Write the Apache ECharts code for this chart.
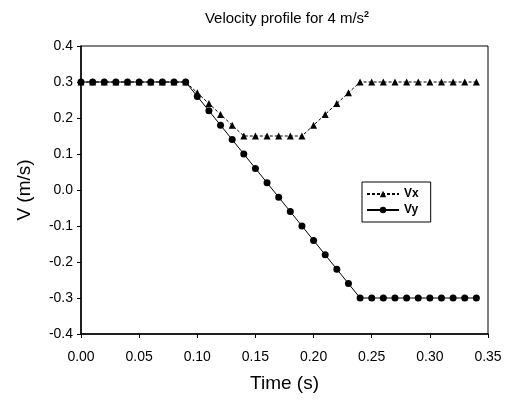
<!DOCTYPE html>
<html>
<head>
<meta charset="utf-8">
<script src="https://cdn.jsdelivr.net/npm/echarts@6/dist/echarts.min.js"></script>
<style>
  html, body { margin: 0; padding: 0; background: #fff; }
  #main { width: 516px; height: 401px; }
</style>
</head>
<body>
<div id="main"></div>
<script>
// time samples (s)
var time = [0.00, 0.01, 0.02, 0.03, 0.04, 0.05, 0.06, 0.07, 0.08, 0.09,
            0.10, 0.11, 0.12, 0.13, 0.14, 0.15, 0.16, 0.17, 0.18, 0.19,
            0.20, 0.21, 0.22, 0.23, 0.24, 0.25, 0.26, 0.27, 0.28, 0.29,
            0.30, 0.31, 0.32, 0.33, 0.34];

// velocities (m/s)
var vx = [0.30, 0.30, 0.30, 0.30, 0.30, 0.30, 0.30, 0.30, 0.30, 0.30,
          0.27, 0.24, 0.21, 0.18, 0.15, 0.15, 0.15, 0.15, 0.15, 0.15,
          0.18, 0.21, 0.24, 0.27, 0.30, 0.30, 0.30, 0.30, 0.30, 0.30,
          0.30, 0.30, 0.30, 0.30, 0.30];

var vy = [0.30, 0.30, 0.30, 0.30, 0.30, 0.30, 0.30, 0.30, 0.30, 0.30,
          0.26, 0.22, 0.18, 0.14, 0.10, 0.06, 0.02, -0.02, -0.06, -0.10,
          -0.14, -0.18, -0.22, -0.26, -0.30, -0.30, -0.30, -0.30, -0.30, -0.30,
          -0.30, -0.30, -0.30, -0.30, -0.30];

function pairs(xs, ys) {
  return xs.map(function (x, i) { return [x, ys[i]]; });
}

var font = 'Liberation Sans, Arial, sans-serif';
var chart = echarts.init(document.getElementById('main'));

chart.setOption({
  animation: false,
  backgroundColor: '#fff',
  title: {
    text: 'Velocity profile for 4 m/s{sup|2}',
    left: 282,
    textAlign: 'center',
    top: 5,
    textStyle: {
      fontFamily: font, fontSize: 15, fontWeight: 'normal', color: '#000',
      rich: { sup: { fontSize: 9, fontWeight: 'bold', verticalAlign: 'top', padding: [0, 0, 8, 0], fontFamily: font, color: '#000' } }
    }
  },
  legend: {
    orient: 'vertical',
    left: 362,
    top: 182,
    padding: [6, 12, 6, 4],
    itemGap: 4,
    itemWidth: 32,
    itemHeight: 8,
    borderColor: '#000',
    borderWidth: 1,
    textStyle: { fontFamily: font, fontSize: 12, fontWeight: 'bold', color: '#000' },
    data: ['Vx', 'Vy']
  },
  grid: { left: 81, right: 28, top: 46, bottom: 67, show: true, borderColor: '#000', borderWidth: 1 },
  xAxis: {
    type: 'value',
    min: 0, max: 0.35, interval: 0.05,
    name: 'Time (s)',
    nameLocation: 'middle',
    nameGap: 40,
    nameTextStyle: { fontFamily: font, fontSize: 19, color: '#000' },
    axisLine: { onZero: false, lineStyle: { color: '#000', width: 1.5 } },
    axisTick: { inside: false, length: 4, lineStyle: { color: '#000' } },
    axisLabel: {
      fontFamily: font, fontSize: 14, color: '#000', margin: 16,
      formatter: function (v) { return (Math.round(v * 100) / 100).toFixed(2); }
    },
    splitLine: { show: false }
  },
  yAxis: {
    type: 'value',
    min: -0.4, max: 0.4, interval: 0.1,
    name: 'V (m/s)',
    nameLocation: 'middle',
    nameGap: 47,
    nameTextStyle: { fontFamily: font, fontSize: 19, color: '#000' },
    axisLine: { onZero: false, lineStyle: { color: '#000', width: 1.5 } },
    axisTick: { inside: false, length: 4, lineStyle: { color: '#000' } },
    axisLabel: {
      fontFamily: font, fontSize: 14, color: '#000', margin: 8,
      formatter: function (v) { var r = Math.round(v * 10) / 10; return (r === 0 ? 0 : r).toFixed(1); }
    },
    splitLine: { show: false }
  },
  series: [
    {
      name: 'Vx',
      type: 'line',
      data: pairs(time, vx),
      symbol: 'triangle',
      symbolSize: 7,
      itemStyle: { color: '#000' },
      lineStyle: { color: '#000', width: 1, type: [3, 2] },
      z: 3
    },
    {
      name: 'Vy',
      type: 'line',
      data: pairs(time, vy),
      symbol: 'circle',
      symbolSize: 7,
      itemStyle: { color: '#000' },
      lineStyle: { color: '#000', width: 1 },
      z: 2
    }
  ]
});
</script>
</body>
</html>
